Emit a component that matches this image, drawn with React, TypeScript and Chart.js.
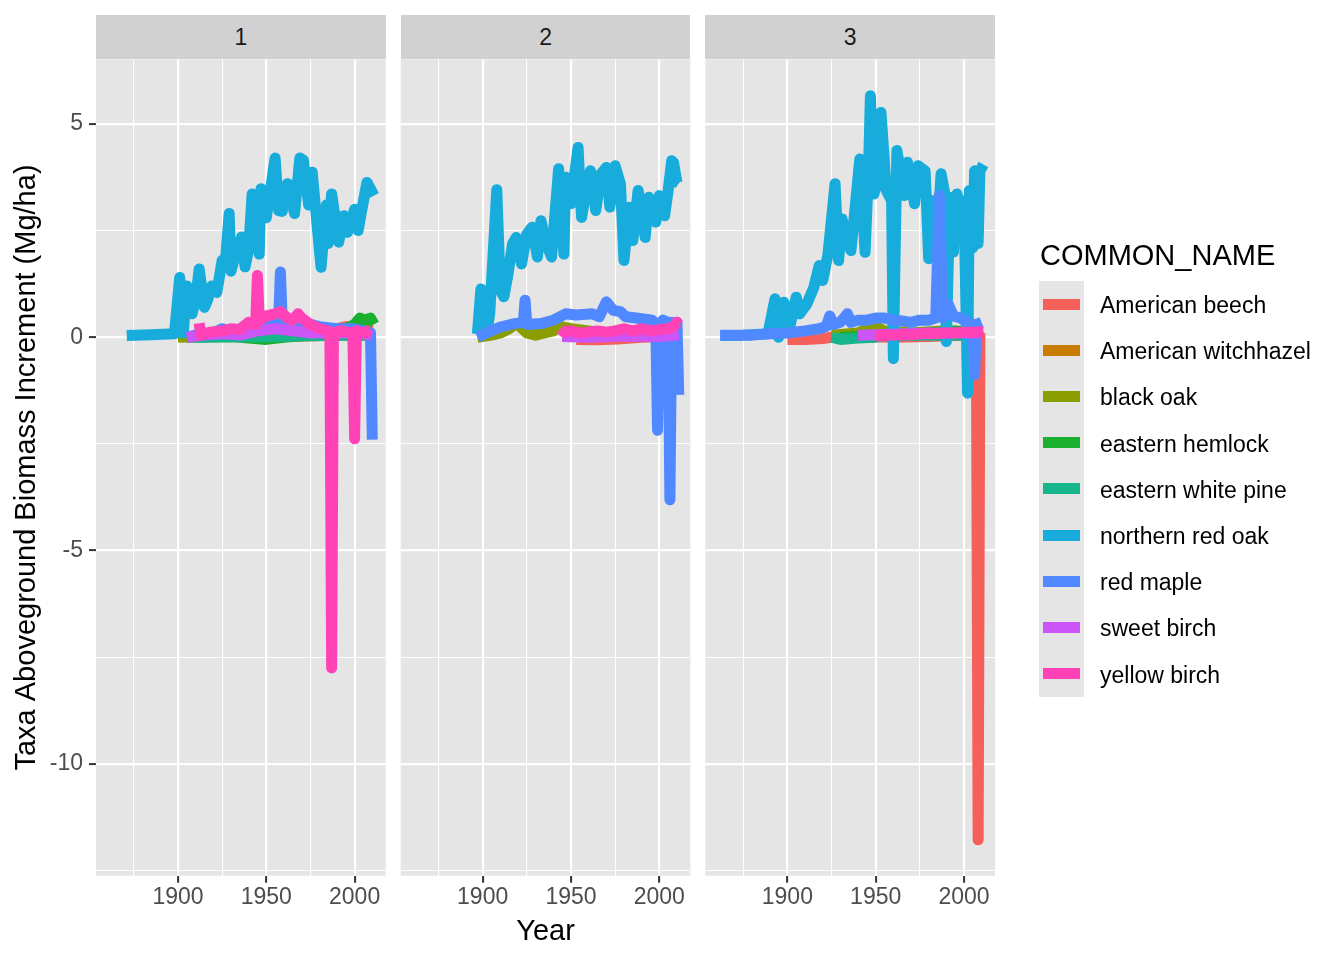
import { useEffect, useRef } from "react";
import Chart from "chart.js/auto";

type Pt = [number, number];

const SPECIES = [
  "American beech",
  "American witchhazel",
  "black oak",
  "eastern hemlock",
  "eastern white pine",
  "northern red oak",
  "red maple",
  "sweet birch",
  "yellow birch",
];
const COLORS = ["#F5605A", "#C97C00", "#8A9E00", "#1AAF2F", "#17B58B", "#17ACDB", "#5088FF", "#CC55F8", "#FF42B5"];
const PANEL_LABELS = ["1", "2", "3"];

const X_TICKS = [1875, 1900, 1925, 1950, 1975, 2000];
const X_LABELS = [1900, 1950, 2000];
const Y_TICKS = [5, 2.5, 0, -2.5, -5, -7.5, -10, -12.5];
const Y_LABELS = [5, 0, -5, -10];
const X_MIN = 1853.6;
const X_MAX = 2017.6;
const Y_MIN = -12.62;
const Y_MAX = 6.515;

// panel 1
const p1Beech: Pt[] = [[1950, 0.0], [1970, 0.05], [1985, 0.15], [1995, 0.25], [2005, 0.2], [2010, 0.15]];
const p1Witchhazel: Pt[] = [[1960, 0.02], [1990, 0.05], [2010, 0.05]];
const p1BlackOak: Pt[] = [[1900, 0.0], [1940, 0.05], [1980, 0.1], [2010, 0.15]];
const p1Hemlock: Pt[] = [[1905, 0.0], [1930, 0.02], [1950, -0.05], [1960, 0.0], [1975, 0.05], [1990, 0.1], [1995, 0.2], [2000, 0.3], [2003, 0.45], [2006, 0.4], [2009, 0.45], [2011, 0.3]];
const p1WhitePine: Pt[] = [[1910, 0.0], [1950, 0.02], [1990, 0.05], [2010, 0.05]];
const p1RedOak: Pt[] = [
  [1871, 0.04], [1885, 0.06], [1898, 0.08], [1901, 1.4], [1903, 0.1], [1905, 1.2], [1908, 0.55], [1910, 0.9],
  [1912, 1.6], [1915, 0.7], [1917, 0.9], [1919, 1.2], [1922, 1.05], [1925, 1.8], [1927, 1.85], [1929, 2.9],
  [1930, 1.55], [1933, 2.0], [1936, 2.35], [1938, 1.65], [1940, 2.05], [1942, 3.36], [1946, 1.95], [1947, 3.48],
  [1950, 2.8], [1955, 4.2], [1957, 2.97], [1959, 2.95], [1962, 3.6], [1966, 2.9], [1969, 4.2], [1971, 4.15],
  [1974, 3.1], [1976, 3.87], [1978, 2.97], [1981, 1.64], [1984, 3.1], [1985, 2.2], [1987, 3.36], [1991, 2.23],
  [1994, 2.85], [1996, 2.46], [2000, 3.0], [2002, 2.5], [2004, 2.97], [2007, 3.63], [2011, 3.32],
];
const p1RedMaple: Pt[] = [
  [1905, 0.0], [1910, 0.05], [1920, 0.1], [1925, 0.2], [1930, 0.12], [1940, 0.25], [1945, 0.35], [1948, 0.45],
  [1952, 0.35], [1957, 0.4], [1958, 1.53], [1959, 0.4], [1965, 0.35], [1970, 0.35], [1975, 0.3], [1980, 0.25],
  [1990, 0.2], [2000, 0.2], [2005, 0.15], [2009, 0.1], [2010, -2.4],
];
const p1SweetBirch: Pt[] = [[1905, 0.0], [1915, 0.05], [1925, 0.08], [1935, 0.05], [1945, 0.15], [1955, 0.2], [1965, 0.15], [1975, 0.1], [1985, 0.1], [1995, 0.1], [2005, 0.08], [2010, 0.05]];
const p1YellowBirch: Pt[] = [
  [1912, 0.33], [1913, 0.05], [1918, 0.12], [1925, 0.15], [1930, 0.2], [1935, 0.18], [1940, 0.35], [1944, 0.3],
  [1945, 1.45], [1946, 0.4], [1950, 0.5], [1955, 0.55], [1958, 0.6], [1962, 0.45], [1965, 0.4], [1968, 0.55],
  [1970, 0.45], [1975, 0.3], [1980, 0.2], [1985, 0.15], [1986, 0.1], [1987, -7.75], [1988, 0.1], [1992, 0.15],
  [1999, 0.1], [2000, -2.38], [2001, 0.15], [2005, 0.1], [2009, 0.15],
];

// panel 2
const p2Beech: Pt[] = [[1953, -0.05], [1965, -0.06], [1976, -0.04], [1990, 0.0], [2005, 0.02]];
const p2BlackOak: Pt[] = [
  [1897, 0.0], [1905, 0.05], [1910, 0.1], [1915, 0.2], [1918, 0.3], [1920, 0.3], [1925, 0.1], [1930, 0.05],
  [1935, 0.1], [1940, 0.15], [1944, 0.25], [1950, 0.2], [1960, 0.15], [1970, 0.1], [1980, 0.1], [1990, 0.1],
  [2000, 0.15], [2010, 0.2],
];
const p2Hemlock: Pt[] = [[1950, 0.1], [1980, 0.12], [2010, 0.15]];
const p2WhitePine: Pt[] = [[1955, 0.1], [1985, 0.1], [2010, 0.12]];
const p2RedOak: Pt[] = [
  [1897, 0.08], [1899, 1.13], [1901, 0.15], [1903, 0.3], [1904, 0.55], [1908, 3.46], [1910, 1.1], [1912, 0.95],
  [1914, 1.4], [1917, 2.2], [1919, 2.34], [1922, 1.72], [1925, 2.42], [1928, 2.58], [1931, 1.88], [1933, 2.73],
  [1936, 2.19], [1939, 1.88], [1943, 3.95], [1946, 1.95], [1947, 3.75], [1950, 3.13], [1954, 4.45], [1956, 2.81],
  [1958, 3.3], [1961, 3.9], [1964, 2.97], [1967, 3.83], [1970, 3.98], [1972, 3.05], [1975, 4.02], [1978, 3.59],
  [1980, 1.8], [1983, 3.05], [1985, 2.27], [1988, 3.44], [1992, 2.34], [1994, 3.28], [1998, 2.7], [2000, 3.32],
  [2003, 2.85], [2005, 3.44], [2007, 4.14], [2008, 4.1], [2010, 3.63], [2011, 3.6],
];
const p2RedMaple: Pt[] = [
  [1897, 0.0], [1903, 0.12], [1910, 0.24], [1918, 0.32], [1923, 0.35], [1924, 0.87], [1925, 0.3], [1933, 0.32],
  [1940, 0.4], [1947, 0.55], [1953, 0.52], [1962, 0.55], [1966, 0.48], [1970, 0.83], [1974, 0.63], [1978, 0.6],
  [1981, 0.48], [1989, 0.44], [1996, 0.4], [1998, 0.3], [1999, -2.18], [2000, 0.3], [2002, 0.4], [2005, 0.35],
  [2006, -3.81], [2007, 0.35], [2009, 0.3], [2010, 0.35], [2011, -1.35],
];
const p2SweetBirch: Pt[] = [[1945, 0.02], [1960, 0.0], [1980, 0.03], [2000, 0.02], [2011, 0.05]];
const p2YellowBirch: Pt[] = [
  [1944, 0.2], [1946, 0.12], [1950, 0.15], [1955, 0.1], [1960, 0.12], [1965, 0.15], [1970, 0.12], [1975, 0.15],
  [1980, 0.2], [1985, 0.15], [1990, 0.2], [1995, 0.15], [2000, 0.18], [2005, 0.2], [2008, 0.25], [2010, 0.35], [2011, 0.3],
];

// panel 3
const p3Beech: Pt[] = [[1900, -0.05], [1910, -0.05], [1920, -0.03], [1925, 0.0], [1940, 0.02], [1960, 0.0], [1980, 0.02], [2000, 0.05], [2007, 0.1], [2008, -11.78], [2009, 0.1], [2010, 0.1]];
const p3Witchhazel: Pt[] = [[1985, 0.1], [2000, 0.15], [2010, 0.1]];
const p3BlackOak: Pt[] = [[1925, 0.05], [1940, 0.1], [1945, 0.2], [1950, 0.25], [1955, 0.15], [1970, 0.1], [1990, 0.15], [2010, 0.1]];
const p3Hemlock: Pt[] = [[1930, 0.0], [1960, 0.05], [1980, 0.1], [1995, 0.15], [2005, 0.1], [2010, 0.2]];
const p3WhitePine: Pt[] = [[1925, 0.0], [1930, -0.05], [1940, -0.02], [1950, 0.0], [1955, 0.05], [1970, 0.05], [1990, 0.05], [2010, 0.05]];
const p3RedOak: Pt[] = [
  [1862, 0.04], [1875, 0.05], [1889, 0.08], [1893, 0.9], [1895, 0.0], [1898, 0.82], [1901, 0.16], [1905, 0.94],
  [1907, 0.55], [1911, 0.78], [1915, 1.17], [1918, 1.68], [1920, 1.33], [1923, 1.95], [1927, 3.6], [1929, 1.8],
  [1931, 2.77], [1933, 2.38], [1936, 2.03], [1941, 4.18], [1944, 1.99], [1946, 4.0], [1947, 5.66], [1949, 3.36],
  [1950, 3.5], [1953, 5.27], [1956, 3.44], [1959, 3.2], [1960, -0.5], [1962, 4.38], [1966, 3.32], [1968, 4.1],
  [1972, 3.13], [1974, 4.02], [1978, 3.9], [1980, 1.84], [1982, 3.2], [1985, 2.5], [1987, 3.83], [1989, 3.4],
  [1990, -0.1], [1992, 3.28], [1994, 2.0], [1996, 3.36], [1999, 2.8], [2000, 3.2], [2002, -1.31], [2003, 3.44],
  [2005, 2.1], [2006, 3.9], [2008, 2.2], [2009, 3.9], [2011, 4.05],
];
const p3RedMaple: Pt[] = [
  [1862, 0.05], [1880, 0.05], [1890, 0.08], [1900, 0.1], [1910, 0.15], [1918, 0.2], [1922, 0.25], [1924, 0.5],
  [1926, 0.3], [1930, 0.35], [1934, 0.55], [1936, 0.35], [1940, 0.4], [1945, 0.4], [1950, 0.45], [1955, 0.45],
  [1960, 0.4], [1965, 0.38], [1970, 0.35], [1975, 0.4], [1980, 0.4], [1984, 0.45], [1986, 3.33], [1988, 0.45],
  [1991, 0.78], [1994, 0.5], [1998, 0.45], [2002, 0.35], [2005, 0.3], [2006, -0.88], [2007, 0.3], [2010, 0.35],
];
const p3SweetBirch: Pt[] = [[1940, 0.05], [1980, 0.1], [2010, 0.1]];
const p3YellowBirch: Pt[] = [
  [1950, 0.03], [1955, 0.04], [1960, 0.05], [1965, 0.06], [1970, 0.06], [1975, 0.08], [1980, 0.08], [1985, 0.09],
  [1990, 0.1], [1995, 0.1], [2000, 0.12], [2005, 0.12], [2011, 0.13],
];

// one entry per species, in SPECIES order
const PANEL_SERIES: (Pt[] | null)[][] = [
  [p1Beech, p1Witchhazel, p1BlackOak, p1Hemlock, p1WhitePine, p1RedOak, p1RedMaple, p1SweetBirch, p1YellowBirch],
  [p2Beech, null, p2BlackOak, p2Hemlock, p2WhitePine, p2RedOak, p2RedMaple, p2SweetBirch, p2YellowBirch],
  [p3Beech, p3Witchhazel, p3BlackOak, p3Hemlock, p3WhitePine, p3RedOak, p3RedMaple, p3SweetBirch, p3YellowBirch],
];

const W = 1344;
const H = 960;
const PANEL_LEFT = [96, 400.7, 705.4];
const PANEL_W = 289.7;
const PLOT_TOP = 59.3;
const PLOT_BOTTOM = 875.7;
const STRIP_TOP = 15;
const LINE_W = 11;
const FONT = "'Liberation Sans', Arial, Helvetica, sans-serif";
const PANEL_BG = "#E5E5E5";
const STRIP_BG = "#D1D1D1";

const panelBackground = {
  id: "panelBackground",
  beforeDraw(chart: Chart) {
    const { ctx, chartArea } = chart;
    ctx.save();
    ctx.fillStyle = PANEL_BG;
    ctx.fillRect(chartArea.left, chartArea.top, chartArea.right - chartArea.left, chartArea.bottom - chartArea.top);
    ctx.restore();
  },
};

function Panel({ index }: { index: number }) {
  const canvasRef = useRef<HTMLCanvasElement>(null);
  const chartRef = useRef<Chart | null>(null);

  useEffect(() => {
    if (!canvasRef.current) return;
    if (chartRef.current) chartRef.current.destroy();

    const first = index === 0;
    const yAxisW = first ? 96 : 0;
    const left = PANEL_LEFT[index];

    const datasets = PANEL_SERIES[index]
      .map((pts, i) =>
        pts
          ? {
              label: SPECIES[i],
              data: pts.map(([x, y]) => ({ x, y })),
              borderColor: COLORS[i],
              backgroundColor: COLORS[i],
              borderWidth: LINE_W,
              borderJoinStyle: "round" as const,
              borderCapStyle: "butt" as const,
              pointRadius: 0,
              tension: 0,
              fill: false,
              order: SPECIES.length - i,
            }
          : null
      )
      .filter((d) => d !== null);

    chartRef.current = new Chart(canvasRef.current, {
      type: "line",
      data: { datasets: datasets as any },
      options: {
        animation: false,
        responsive: false,
        events: [],
        layout: {
          padding: { left: left - yAxisW, right: W - left - PANEL_W, top: PLOT_TOP, bottom: 0 },
        },
        plugins: {
          legend: { display: false },
          tooltip: { enabled: false },
        },
        scales: {
          x: {
            type: "linear",
            min: X_MIN,
            max: X_MAX,
            afterBuildTicks: (s: any) => {
              s.ticks = X_TICKS.map((v) => ({ value: v }));
            },
            afterFit: (s: any) => {
              s.height = H - PLOT_BOTTOM;
            },
            ticks: {
              autoSkip: false,
              maxRotation: 0,
              padding: 1,
              color: "#4D4D4D",
              font: { family: FONT, size: 23 },
              callback: (v: any) => (X_LABELS.includes(Number(v)) ? String(v) : ""),
            },
            grid: {
              color: "#FFFFFF",
              lineWidth: (c: any) => (X_LABELS.includes(c.tick?.value) ? 2.2 : 1.1),
              drawTicks: true,
              tickLength: 7,
              tickWidth: 2,
              tickColor: (c: any) => (X_LABELS.includes(c.tick?.value) ? "#333333" : "rgba(0,0,0,0)"),
            },
            border: { display: false },
            title: {
              display: index === 1,
              text: "Year",
              color: "#000000",
              font: { family: FONT, size: 29 },
              padding: { top: 0, bottom: 11 },
            },
          },
          y: {
            type: "linear",
            min: Y_MIN,
            max: Y_MAX,
            afterBuildTicks: (s: any) => {
              s.ticks = Y_TICKS.map((v) => ({ value: v }));
            },
            afterFit: (s: any) => {
              s.width = yAxisW;
            },
            ticks: {
              display: first,
              autoSkip: false,
              padding: 6,
              color: "#4D4D4D",
              font: { family: FONT, size: 23 },
              callback: (v: any) => (Y_LABELS.includes(Number(v)) ? String(v) : ""),
            },
            grid: {
              color: "#FFFFFF",
              lineWidth: (c: any) => (Y_LABELS.includes(c.tick?.value) ? 2.2 : 1.1),
              drawTicks: first,
              tickLength: 7,
              tickWidth: 2,
              tickColor: (c: any) => (Y_LABELS.includes(c.tick?.value) ? "#333333" : "rgba(0,0,0,0)"),
            },
            border: { display: false },
            title: {
              display: first,
              text: "Taxa Aboveground Biomass Increment (Mg/ha)",
              color: "#000000",
              font: { family: FONT, size: 29 },
              padding: { top: 10, bottom: 0 },
            },
          },
        },
      },
      plugins: [panelBackground],
    });

    return () => {
      if (chartRef.current) {
        chartRef.current.destroy();
        chartRef.current = null;
      }
    };
  }, [index]);

  return (
    <canvas
      ref={canvasRef}
      width={W}
      height={H}
      style={{ position: "absolute", left: 0, top: 0, width: W, height: H }}
    />
  );
}

export default function App() {
  return (
    <div
      style={{
        position: "absolute",
        left: 0,
        top: 0,
        width: W,
        height: H,
        background: "#FFFFFF",
        fontFamily: FONT,
        overflow: "hidden",
      }}
    >
      {PANEL_LABELS.map((label, i) => (
        <div
          key={"strip" + i}
          style={{
            position: "absolute",
            left: PANEL_LEFT[i],
            top: STRIP_TOP,
            width: PANEL_W,
            height: PLOT_TOP - STRIP_TOP,
            lineHeight: `${PLOT_TOP - STRIP_TOP}px`,
            background: STRIP_BG,
            color: "#1A1A1A",
            fontSize: 23,
            textAlign: "center",
          }}
        >
          {label}
        </div>
      ))}
      {PANEL_LABELS.map((_, i) => (
        <Panel key={"panel" + i} index={i} />
      ))}
      <div
        style={{
          position: "absolute",
          left: 1040,
          top: 238,
          fontSize: 29,
          lineHeight: "34px",
          color: "#000000",
          whiteSpace: "nowrap",
        }}
      >
        COMMON_NAME
      </div>
      <div
        style={{
          position: "absolute",
          left: 1039,
          top: 281,
          width: 45,
          height: 46.2 * SPECIES.length,
          background: PANEL_BG,
        }}
      />
      {SPECIES.map((name, i) => (
        <div key={name}>
          <div
            style={{
              position: "absolute",
              left: 1043,
              top: 281 + 46.2 * i + 23.1 - 5.5,
              width: 37,
              height: 11,
              background: COLORS[i],
            }}
          />
          <div
            style={{
              position: "absolute",
              left: 1100,
              top: 281 + 46.2 * i + 1,
              height: 46.2,
              lineHeight: "46.2px",
              fontSize: 23,
              color: "#000000",
              whiteSpace: "nowrap",
            }}
          >
            {name}
          </div>
        </div>
      ))}
    </div>
  );
}
